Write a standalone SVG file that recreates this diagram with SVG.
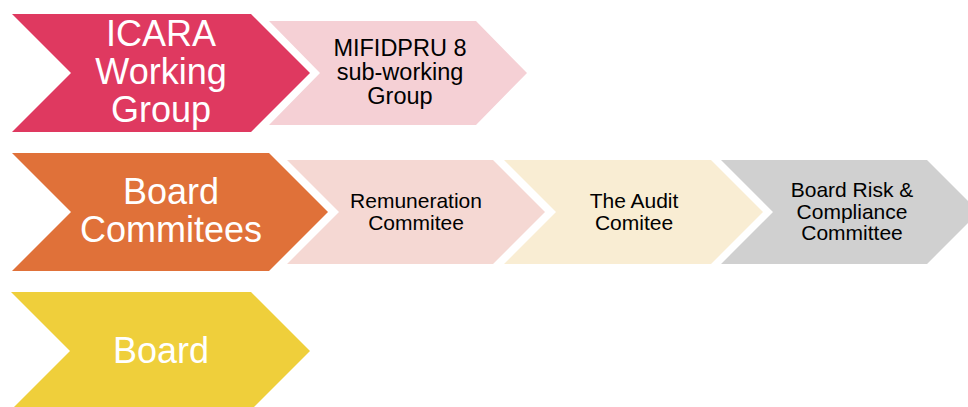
<svg xmlns="http://www.w3.org/2000/svg" width="968" height="407" viewBox="0 0 968 407">
<style>
  .main { font-family: "Liberation Sans", Arial, sans-serif; font-size: 36px; fill: #ffffff; text-anchor: middle; }
  .sub { font-family: "Liberation Sans", Arial, sans-serif; font-size: 21px; fill: #000000; text-anchor: middle; }
  .sub2 { font-family: "Liberation Sans", Arial, sans-serif; font-size: 23.5px; fill: #000000; text-anchor: middle; }
</style>
<rect width="968" height="407" fill="#ffffff"/>
<g id="icara">
  <polygon points="12,14 251,14 310,73 251,132 12,132 71,73" fill="#DF3960"/>
  <text class="main" x="161" y="46">ICARA</text>
  <text class="main" x="161" y="84">Working</text>
  <text class="main" x="161" y="122">Group</text>
</g>
<g id="mifidpru">
  <polygon points="269,21 476,21 527,73 476,125 269,125 320,73" fill="#F5D0D5"/>
  <text class="sub2" x="400" y="56">MIFIDPRU 8</text>
  <text class="sub2" x="400" y="80">sub-working</text>
  <text class="sub2" x="400" y="104">Group</text>
</g>
<g id="board-commitees">
  <polygon points="12,153 269,153 328,212 269,271 12,271 71,212" fill="#E07139"/>
  <text class="main" x="171" y="204">Board</text>
  <text class="main" x="171" y="242">Commitees</text>
</g>
<g id="remuneration">
  <polygon points="287,160 493,160 545,212 493,264 287,264 339,212" fill="#F5D8D3"/>
  <text class="sub" x="416" y="208">Remuneration</text>
  <text class="sub" x="416" y="230">Commitee</text>
</g>
<g id="audit">
  <polygon points="504,160 711,160 763,212 711,264 504,264 556,212" fill="#F9EDD3"/>
  <text class="sub" x="634" y="208">The Audit</text>
  <text class="sub" x="634" y="230">Comitee</text>
</g>
<g id="board-risk">
  <polygon points="721,160 927,160 979,212 927,264 721,264 773,212" fill="#D0D0D0"/>
  <text class="sub" x="852" y="197">Board Risk &amp;</text>
  <text class="sub" x="852" y="218.5">Compliance</text>
  <text class="sub" x="852" y="240">Committee</text>
</g>
<g id="board">
  <polygon points="11,292 251,292 310,351 251,410 11,410 70,351" fill="#EFCF3B"/>
  <text class="main" x="161" y="363">Board</text>
</g>
<g id="connectors"></g>
</svg>
